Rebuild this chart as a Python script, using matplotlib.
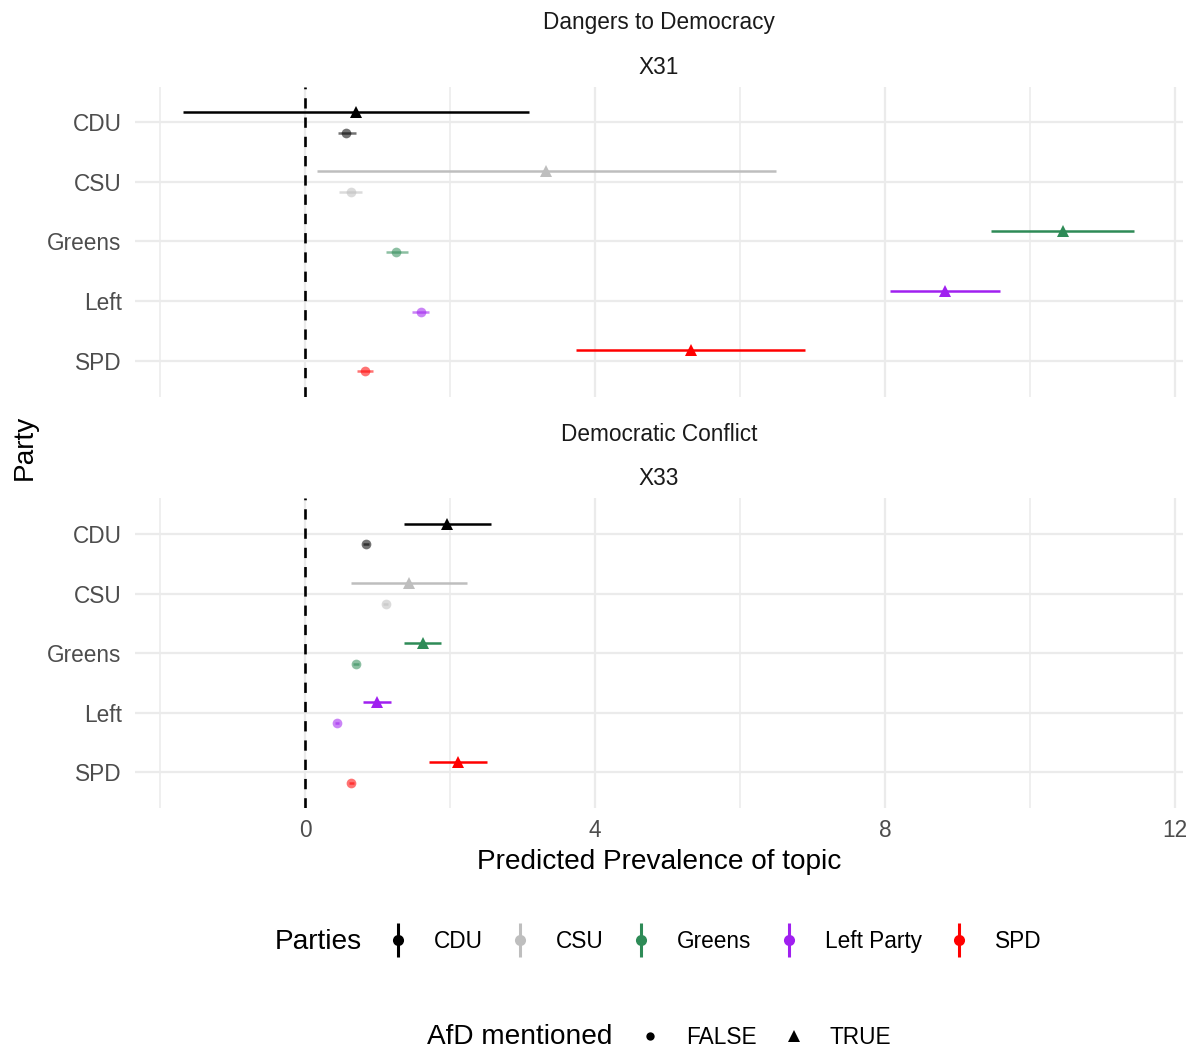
import matplotlib
matplotlib.use("Agg")
import matplotlib.pyplot as plt
from matplotlib.lines import Line2D
from matplotlib.legend_handler import HandlerTuple

plt.rcParams['font.family'] = ['Liberation Sans', 'DejaVu Sans']

# ---------------- data ----------------
parties = ["CDU", "CSU", "Greens", "Left", "SPD"]
legend_labels = ["CDU", "CSU", "Greens", "Left Party", "SPD"]
party_colors = ["#000000", "#BEBEBE", "#2E8B57", "#A020F0", "#FF0000"]
afd_labels = ["FALSE", "TRUE"]

topic_titles = ["Dangers to Democracy", "Democratic Conflict"]
topic_codes = ["X31", "X33"]

# X31 - Dangers to Democracy
x31_true_mean = [0.70, 3.32, 10.45, 8.83, 5.32]
x31_true_lo = [-1.69, 0.16, 9.46, 8.07, 3.74]
x31_true_hi = [3.09, 6.49, 11.44, 9.59, 6.90]
x31_false_mean = [0.57, 0.63, 1.26, 1.60, 0.83]
x31_false_lo = [0.45, 0.47, 1.11, 1.48, 0.72]
x31_false_hi = [0.70, 0.79, 1.42, 1.71, 0.94]

# X33 - Democratic Conflict
x33_true_mean = [1.96, 1.43, 1.63, 0.99, 2.11]
x33_true_lo = [1.36, 0.63, 1.37, 0.80, 1.71]
x33_true_hi = [2.57, 2.23, 1.88, 1.18, 2.51]
x33_false_mean = [0.84, 1.11, 0.70, 0.44, 0.64]
x33_false_lo = [0.80, 1.07, 0.66, 0.41, 0.60]
x33_false_hi = [0.88, 1.15, 0.74, 0.47, 0.68]

x_ticks = [0, 4, 8, 12]
x_minor = [-2, 2, 6, 10]

panels = [
    (x31_true_mean, x31_true_lo, x31_true_hi, x31_false_mean, x31_false_lo, x31_false_hi),
    (x33_true_mean, x33_true_lo, x33_true_hi, x33_false_mean, x33_false_lo, x33_false_hi),
]

# ---------------- figure ----------------
W_PX, H_PX = 1195, 1053
fig = plt.figure(figsize=(W_PX / 100, H_PX / 100), dpi=100)

def fx(px):
    return px / W_PX

def fy(py):
    return 1 - py / H_PX

left_px, right_px = 134.7, 1183
panel_tops = [86.5, 498.2]
panel_h = 310

SMALL = 16.3
BIG = 20.2
grid_col = "#EBEBEB"
dodge = 0.175

axes = []
for k, (tm, tl, th, fm, fl, fh) in enumerate(panels):
    top = panel_tops[k]
    ax = fig.add_axes([fx(left_px), fy(top + panel_h), fx(right_px) - fx(left_px), panel_h / H_PX])
    axes.append(ax)
    ax.set_xlim(-2.35, 12.11)
    ax.set_ylim(len(parties) - 0.4, -0.6)
    for s in ax.spines.values():
        s.set_visible(False)
    ax.set_xticks(x_ticks)
    ax.set_xticks(x_minor, minor=True)
    ax.set_yticks(range(len(parties)))
    ax.set_yticklabels(parties)
    ax.tick_params(axis='both', which='both', length=0)
    ax.tick_params(axis='y', labelsize=SMALL, labelcolor="#4D4D4D", pad=9.5)
    ax.tick_params(axis='x', labelsize=SMALL, labelcolor="#4D4D4D", pad=7.5)
    ax.grid(True, which='major', axis='both', color=grid_col, lw=1.6, zorder=0)
    ax.grid(True, which='minor', axis='x', color=grid_col, lw=1.15, zorder=0)
    ax.set_axisbelow(True)
    if k == 0:
        ax.tick_params(axis='x', labelbottom=False)

    ax.axvline(0, color="black", lw=1.9, dashes=(3.9, 3.4), zorder=2)

    for i, p in enumerate(parties):
        c = party_colors[i]
        # AfD mentioned = TRUE (upper)
        ax.plot([tl[i], th[i]], [i - dodge, i - dodge], color=c, lw=1.8,
                solid_capstyle='butt', zorder=3)
        ax.plot([tm[i]], [i - dodge], marker='^', color=c, markersize=8.5,
                markeredgewidth=0, linestyle='None', zorder=4)
        # AfD mentioned = FALSE (lower)
        ax.plot([fl[i], fh[i]], [i + dodge, i + dodge], color=c, lw=1.8, alpha=0.55,
                solid_capstyle='butt', zorder=3)
        ax.plot([fm[i]], [i + dodge], marker='o', color=c, markersize=7,
                markeredgewidth=0, alpha=0.55, linestyle='None', zorder=4)

    # strip labels
    cx = fx((left_px + right_px) / 2)
    fig.text(cx, fy(top - 63.5), topic_titles[k], ha='center', va='center',
             fontsize=SMALL, color="#1A1A1A")
    fig.text(cx, fy(top - 19.5), topic_codes[k], ha='center', va='center',
             fontsize=SMALL, color="#1A1A1A")

# axis titles
fig.text(fx(659), fy(862), "Predicted Prevalence of topic", ha='center', va='center',
         fontsize=BIG)
fig.text(fx(25), fy(447), "Party", ha='center', va='center', rotation=90, fontsize=BIG)

# ---------------- legends ----------------
party_handles = []
for c in party_colors:
    vline = Line2D([], [], color=c, marker='|', markersize=25, markeredgewidth=2.2,
                   linestyle='None')
    dot = Line2D([], [], color=c, marker='o', markersize=8, markeredgewidth=0,
                 linestyle='None')
    party_handles.append((vline, dot))

fig.text(fx(275), fy(942), "Parties", ha='left', va='center', fontsize=BIG)
leg1 = fig.legend(party_handles, legend_labels, handler_map={tuple: HandlerTuple(ndivide=1)},
                  loc='center left', bbox_to_anchor=(fx(386.7), fy(941.5)), ncol=5,
                  frameon=False, fontsize=SMALL, handlelength=1.0, handletextpad=1.09,
                  columnspacing=1.14, borderpad=0, borderaxespad=0)

afd_handles = [
    Line2D([], [], color='black', marker='o', markersize=6, markeredgewidth=0, linestyle='None'),
    Line2D([], [], color='black', marker='^', markersize=8, markeredgewidth=0, linestyle='None'),
]
fig.text(fx(427), fy(1036.5), "AfD mentioned", ha='left', va='center', fontsize=BIG)
leg2 = fig.legend(afd_handles, afd_labels, loc='center left',
                  bbox_to_anchor=(fx(638.7), fy(1037)), ncol=2, frameon=False,
                  fontsize=SMALL, handlelength=1.0, handletextpad=1.09,
                  columnspacing=1.14, borderpad=0, borderaxespad=0)

fig.savefig("out.png", dpi=100)
